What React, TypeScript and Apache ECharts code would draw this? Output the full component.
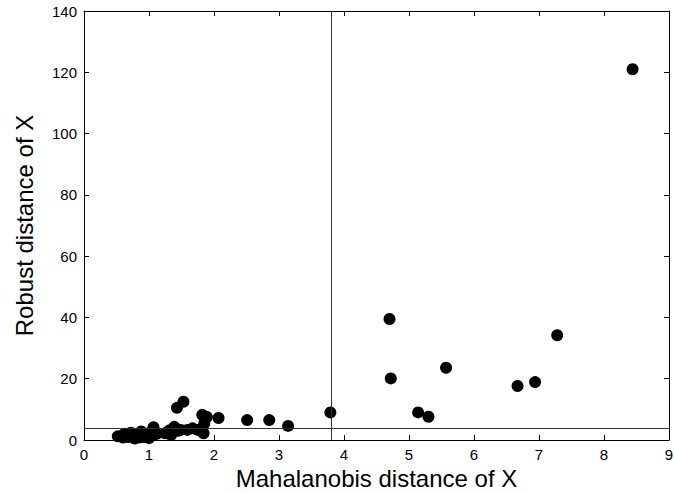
import React, { useEffect, useRef } from "react";
import * as echarts from "echarts";

const xValues = [
  0.52, 0.6, 0.62, 0.68, 0.72, 0.75, 0.78, 0.82, 0.85, 0.88, 0.92, 0.95, 0.97, 1.0, 1.02, 1.05, 1.07, 1.08, 1.12,
  1.25, 1.29, 1.32, 1.34, 1.39, 1.43, 1.45, 1.49, 1.53, 1.59, 1.67, 1.75, 1.82, 1.84, 1.85, 1.89,
  2.07, 2.51, 2.85, 3.14, 3.79,
  4.7, 4.72, 5.14, 5.3, 5.57, 6.67, 6.94, 7.28, 8.44,
];
const yValues = [
  1.2, 0.8, 2.0, 1.0, 2.4, 1.8, 0.5, 1.5, 0.8, 2.8, 1.0, 1.6, 2.0, 0.6, 1.2, 3.0, 4.2, 1.8, 2.0,
  2.2, 2.7, 3.2, 1.6, 4.3, 10.5, 3.0, 3.3, 12.5, 3.3, 3.8, 3.3, 8.2, 2.2, 5.4, 7.5,
  7.2, 6.5, 6.5, 4.6, 9.0,
  39.5, 20.1, 9.0, 7.6, 23.6, 17.6, 18.9, 34.2, 121.0,
];
const xCutoff = 3.8;
const yCutoff = 3.8;
const xTicks = [0, 1, 2, 3, 4, 5, 6, 7, 8, 9];
const yTicks = [0, 20, 40, 60, 80, 100, 120, 140];

export default function App() {
  const ref = useRef<HTMLDivElement>(null);
  useEffect(() => {
    if (!ref.current) return;
    const chart = echarts.init(ref.current, undefined, { renderer: "svg" });
    const font = "Liberation Sans, Arial, Helvetica, sans-serif";
    const points = xValues.map((x, i) => [x, yValues[i]]);
    const baseAxis = {
      axisLine: { show: true, onZero: false, lineStyle: { color: "#000", width: 1 } },
      axisTick: { show: true, inside: true, length: 5, lineStyle: { color: "#000", width: 1 } },
      splitLine: { show: false },
    };
    chart.setOption({
      animation: false,
      backgroundColor: "#fff",
      grid: { left: 84, right: 5, top: 11, bottom: 53, containLabel: false, outerBoundsMode: "none" },
      xAxis: [
        {
          ...baseAxis,
          type: "value",
          min: xTicks[0],
          max: xTicks[xTicks.length - 1],
          interval: 1,
          position: "bottom",
          name: "Mahalanobis distance of X",
          nameLocation: "middle",
          nameGap: 24,
          nameTextStyle: { fontSize: 24, lineHeight: 24, fontFamily: font, color: "#000" },
          axisLabel: { fontSize: 15, fontFamily: font, color: "#000", margin: 7 },
        },
        {
          ...baseAxis,
          type: "value",
          min: xTicks[0],
          max: xTicks[xTicks.length - 1],
          interval: 1,
          position: "top",
          axisLabel: { show: false },
        },
      ],
      yAxis: [
        {
          ...baseAxis,
          type: "value",
          min: yTicks[0],
          max: yTicks[yTicks.length - 1],
          interval: 20,
          position: "left",
          name: "Robust distance of X",
          nameLocation: "middle",
          nameGap: 48,
          nameRotate: 90,
          nameTextStyle: { fontSize: 24, lineHeight: 24, fontFamily: font, color: "#000" },
          axisLabel: { fontSize: 15, fontFamily: font, color: "#000", margin: 7 },
        },
        {
          ...baseAxis,
          type: "value",
          min: yTicks[0],
          max: yTicks[yTicks.length - 1],
          interval: 20,
          position: "right",
          axisLabel: { show: false },
        },
      ],
      series: [
        {
          type: "scatter",
          data: points,
          symbol: "circle",
          symbolSize: 12,
          itemStyle: { color: "#000", opacity: 1 },
          markLine: {
            silent: true,
            symbol: "none",
            label: { show: false },
            lineStyle: { color: "#333", width: 1, type: "solid" },
            data: [{ xAxis: xCutoff }, { yAxis: yCutoff }],
          },
        },
      ],
    });
    return () => chart.dispose();
  }, []);
  return <div ref={ref} style={{ width: 674, height: 493, position: "absolute", left: 0, top: 0 }} />;
}
